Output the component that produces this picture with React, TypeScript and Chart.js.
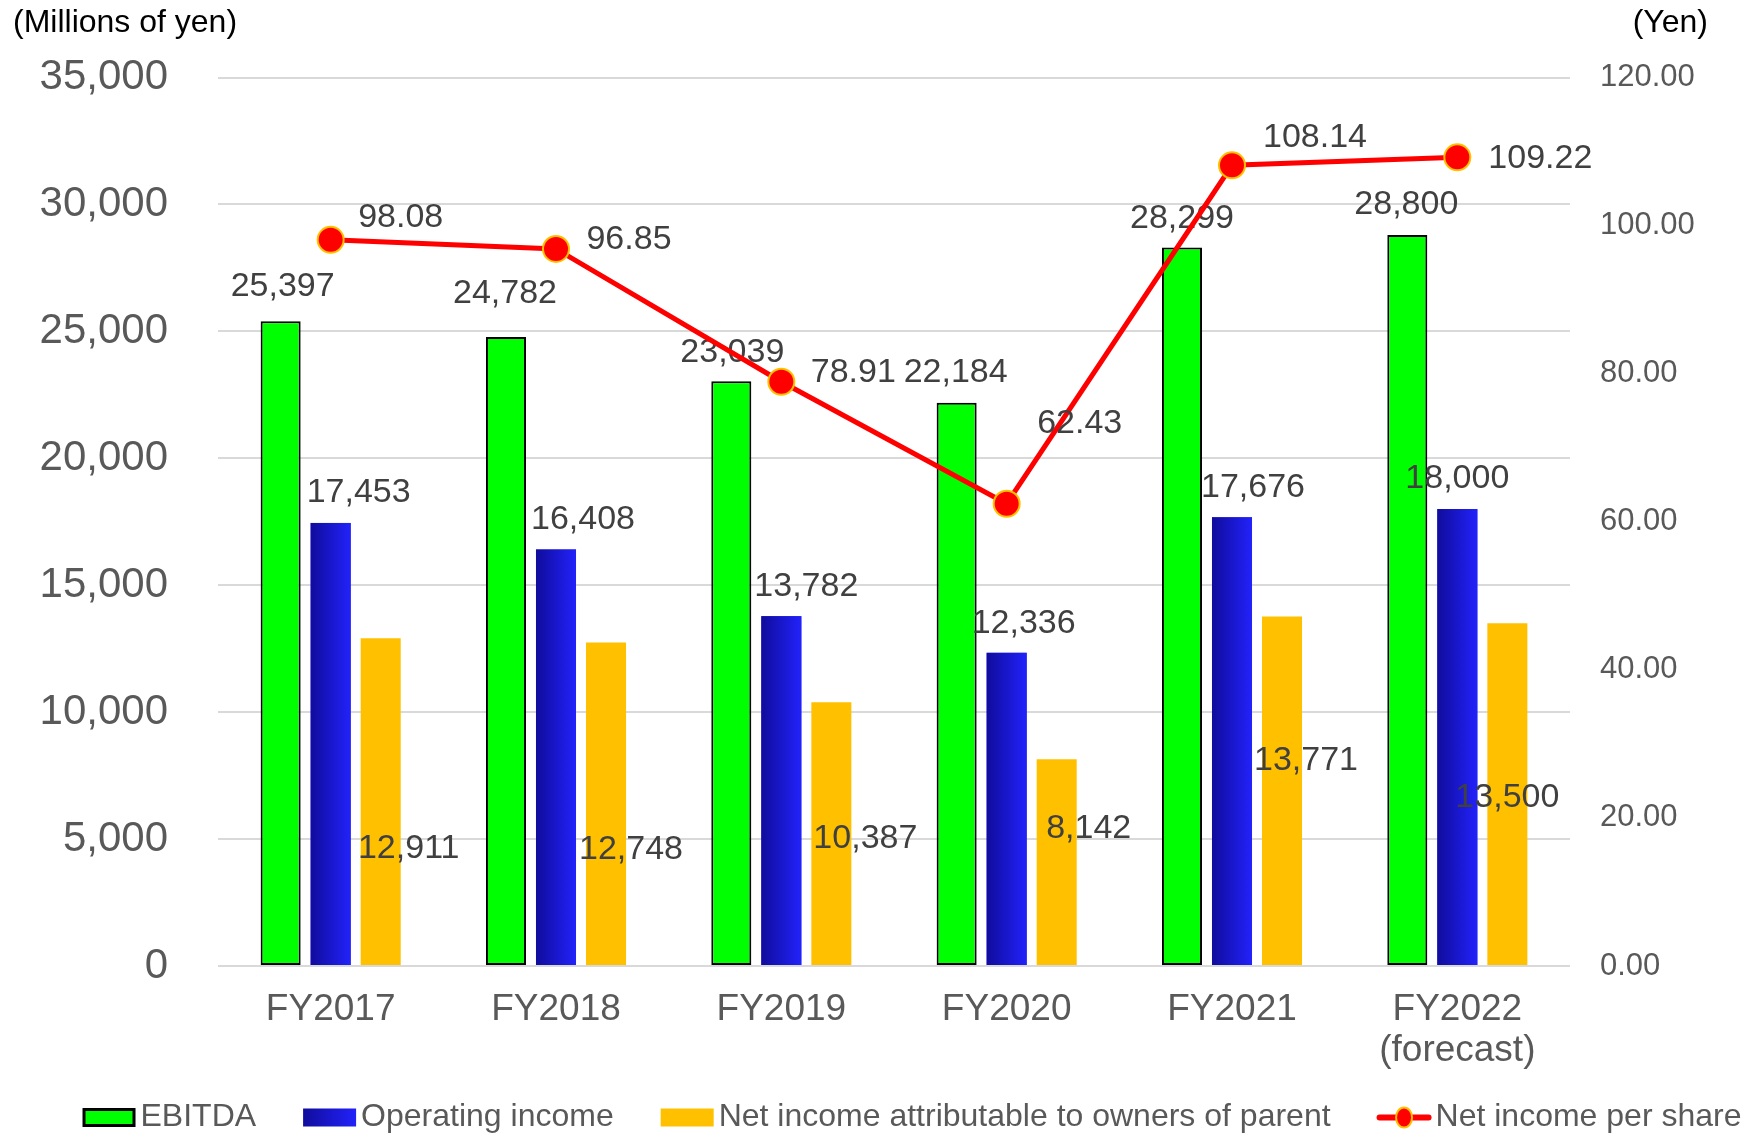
import React, { useEffect, useRef } from 'react';
import { Chart, registerables } from 'chart.js';

Chart.register(...registerables);

// ---------- data ----------
const categories: (string | string[])[] = ['FY2017', 'FY2018', 'FY2019', 'FY2020', 'FY2021', ['FY2022', '(forecast)']];
const ebitda = [25397, 24782, 23039, 22184, 28299, 28800];
const operatingIncome = [17453, 16408, 13782, 12336, 17676, 18000];
const netIncome = [12911, 12748, 10387, 8142, 13771, 13500];
const netIncomePerShare = [98.08, 96.85, 78.91, 62.43, 108.14, 109.22];

const seriesNames = ['EBITDA', 'Operating income', 'Net income attributable to owners of parent', 'Net income per share'];

const leftAxisMax = 35000;
const leftAxisStep = 5000;
const rightAxisMax = 120;
const rightAxisStep = 20;

const leftAxisTitle = '(Millions of yen)';
const rightAxisTitle = '(Yen)';

// ---------- label placement (pixel nudges, style only) ----------
const ebitdaLabelDx = [2, -1, 1, -1, 0, -1];
const ebitdaLabelDy = [-35, -43, -29, -30, -29, -30];
const opLabelDx = [28, 27, 25, 17, 21, 0];
const opLabelDy = [-30, -30, -30, -29, -30, -30];
const netLabelDx = [28, 25, 34, 32, 24, 0];
const netLabelDy = [210, 207, 136, 69, 144, 174];
const epsLabelDx = [70, 73, 72, 73, 83, 83];
const epsLabelDy = [-22, -9, -9, -80, -28, 1];

// ---------- styles ----------
const FONT = '"Liberation Sans", Arial, Helvetica, sans-serif';
const GREEN = '#00FF00';
const BLUE_DARK = '#100C9C';
const BLUE_LIGHT = '#2222FA';
const YELLOW = '#FFC000';
const RED = '#FF0000';
const LABEL_COLOR = '#404040';
const AXIS_COLOR = '#595959';
const GRID_COLOR = '#D9D9D9';

const fmtInt = (v: number) => v.toLocaleString('en-US');

function drawText(ctx: CanvasRenderingContext2D, text: string, x: number, y: number, size: number, color: string, align: CanvasTextAlign = 'center') {
  ctx.save();
  ctx.font = `${size}px ${FONT}`;
  ctx.fillStyle = color;
  ctx.textAlign = align;
  ctx.textBaseline = 'middle';
  ctx.fillText(text, x, y);
  ctx.restore();
}

const customPlugin = {
  id: 'customDraw',
  afterDatasetDraw(chart: any, args: any) {
    const ctx: CanvasRenderingContext2D = chart.ctx;
    if (args.index === 1) {
      // horizontal gradient on operating income bars
      args.meta.data.forEach((el: any) => {
        const { x, y, base, width } = el.getProps(['x', 'y', 'base', 'width'], true);
        const left = x - width / 2;
        const g = ctx.createLinearGradient(left, 0, left + width, 0);
        g.addColorStop(0, BLUE_DARK);
        g.addColorStop(1, BLUE_LIGHT);
        ctx.save();
        ctx.fillStyle = g;
        ctx.fillRect(left, Math.min(y, base), width, Math.abs(base - y));
        ctx.restore();
      });
    }
    if (args.index === 0) {
      // all bars are drawn now (green is the last bar dataset drawn); draw bar labels under the line
      const sets: [number, number[], number[], number[]][] = [
        [0, ebitda, ebitdaLabelDx, ebitdaLabelDy],
        [1, operatingIncome, opLabelDx, opLabelDy],
        [2, netIncome, netLabelDx, netLabelDy],
      ];
      sets.forEach(([di, vals, dx, dy]) => {
        const meta = chart.getDatasetMeta(di);
        meta.data.forEach((el: any, i: number) => {
          const { x, y } = el.getProps(['x', 'y'], true);
          drawText(ctx, fmtInt(vals[i]), x + dx[i], y + dy[i], 34, LABEL_COLOR);
        });
      });
    }
  },
  afterDatasetsDraw(chart: any) {
    const ctx: CanvasRenderingContext2D = chart.ctx;
    const meta = chart.getDatasetMeta(3);
    meta.data.forEach((el: any, i: number) => {
      const { x, y } = el.getProps(['x', 'y'], true);
      drawText(ctx, netIncomePerShare[i].toFixed(2), x + epsLabelDx[i], y + epsLabelDy[i], 34, LABEL_COLOR);
    });
  },
  afterDraw(chart: any) {
    const ctx: CanvasRenderingContext2D = chart.ctx;
    // axis titles
    drawText(ctx, leftAxisTitle, 13, 23, 32, '#000000', 'left');
    drawText(ctx, rightAxisTitle, 1708, 23, 32, '#000000', 'right');

    // legend
    const size = 32;
    ctx.save();
    ctx.font = `${size}px ${FONT}`;
    const boxW = 53;
    const boxGap = 5;
    const itemGap = 47;
    const widths = seriesNames.map((n) => ctx.measureText(n).width);
    const total = widths.reduce((a, w) => a + boxW + boxGap + w, 0) + itemGap * (seriesNames.length - 1);
    const cy = 1117.5;
    let x = 912 - total / 2;
    ctx.restore();
    seriesNames.forEach((name, i) => {
      ctx.save();
      if (i === 0) {
        ctx.fillStyle = '#000';
        ctx.fillRect(x, cy - 9.5, boxW, 19);
        ctx.fillStyle = GREEN;
        ctx.fillRect(x + 3, cy - 6.5, boxW - 6, 13);
      } else if (i === 1) {
        const g = ctx.createLinearGradient(x, 0, x + boxW, 0);
        g.addColorStop(0, BLUE_DARK);
        g.addColorStop(1, BLUE_LIGHT);
        ctx.fillStyle = g;
        ctx.fillRect(x, cy - 9, boxW, 18);
      } else if (i === 2) {
        ctx.fillStyle = YELLOW;
        ctx.fillRect(x, cy - 9, boxW, 18);
      } else {
        ctx.strokeStyle = RED;
        ctx.lineWidth = 6;
        ctx.lineCap = 'round';
        ctx.beginPath();
        ctx.moveTo(x + 2, cy);
        ctx.lineTo(x + boxW - 2, cy);
        ctx.stroke();
        ctx.beginPath();
        ctx.ellipse(x + boxW / 2, cy, 8, 10, 0, 0, Math.PI * 2);
        ctx.fillStyle = RED;
        ctx.fill();
        ctx.lineWidth = 2;
        ctx.strokeStyle = YELLOW;
        ctx.stroke();
      }
      ctx.restore();
      drawText(ctx, name, x + boxW + boxGap, cy, size, AXIS_COLOR, 'left');
      x += boxW + boxGap + widths[i] + itemGap;
    });
  },
};

export default function App() {
  const canvasRef = useRef<HTMLCanvasElement | null>(null);

  useEffect(() => {
    if (!canvasRef.current) return;
    const chart = new Chart(canvasRef.current, {
      type: 'bar',
      data: {
        labels: categories as any,
        datasets: [
          {
            type: 'bar',
            label: seriesNames[0],
            data: ebitda,
            backgroundColor: GREEN,
            borderColor: '#000000',
            borderWidth: 2,
            borderSkipped: false,
            yAxisID: 'y',
            order: 1,
            barPercentage: 0.8,
            categoryPercentage: 0.666,
          },
          {
            type: 'bar',
            label: seriesNames[1],
            data: operatingIncome,
            backgroundColor: BLUE_LIGHT,
            borderWidth: 0,
            yAxisID: 'y',
            order: 2,
            barPercentage: 0.8,
            categoryPercentage: 0.666,
          },
          {
            type: 'bar',
            label: seriesNames[2],
            data: netIncome,
            backgroundColor: YELLOW,
            borderWidth: 0,
            yAxisID: 'y',
            order: 3,
            barPercentage: 0.8,
            categoryPercentage: 0.666,
          },
          {
            type: 'line',
            label: seriesNames[3],
            data: netIncomePerShare,
            borderColor: RED,
            borderWidth: 5,
            backgroundColor: RED,
            pointRadius: 13,
            pointBackgroundColor: RED,
            pointBorderColor: YELLOW,
            pointBorderWidth: 2,
            tension: 0,
            yAxisID: 'y1',
            order: 0,
          } as any,
        ],
      },
      options: {
        responsive: false,
        devicePixelRatio: 1,
        animation: false,
        layout: { padding: { top: 77.5, left: 0, right: 0, bottom: 0 } },
        plugins: {
          legend: { display: false },
          tooltip: { enabled: false },
          title: { display: false },
        },
        scales: {
          x: {
            grid: { display: false },
            border: { display: false },
            ticks: {
              color: AXIS_COLOR,
              font: { family: FONT, size: 37, lineHeight: 1.12 },
              padding: 15,
              maxRotation: 0,
              autoSkip: false,
            },
            afterFit: (s: any) => {
              s.height = 168;
            },
          },
          y: {
            position: 'left',
            min: 0,
            max: leftAxisMax,
            grid: { color: GRID_COLOR, lineWidth: 2, drawTicks: false },
            border: { display: false },
            ticks: {
              stepSize: leftAxisStep,
              color: AXIS_COLOR,
              font: { family: FONT, size: 42 },
              padding: 50,
              callback: (v: any) => fmtInt(Number(v)),
            },
            afterFit: (s: any) => {
              s.width = 218;
            },
          },
          y1: {
            position: 'right',
            min: 0,
            max: rightAxisMax,
            grid: { display: false, drawTicks: false },
            border: { display: false },
            ticks: {
              stepSize: rightAxisStep,
              color: AXIS_COLOR,
              font: { family: FONT, size: 31 },
              padding: 30,
              callback: (v: any) => Number(v).toFixed(2),
            },
            afterFit: (s: any) => {
              s.width = 180;
            },
          },
        },
      } as any,
      plugins: [customPlugin as any],
    });
    return () => chart.destroy();
  }, []);

  return (
    <div style={{ position: 'absolute', left: 0, top: 0, width: 1750, height: 1134, background: '#ffffff' }}>
      <canvas ref={canvasRef} width={1750} height={1134} style={{ display: 'block' }} />
    </div>
  );
}
